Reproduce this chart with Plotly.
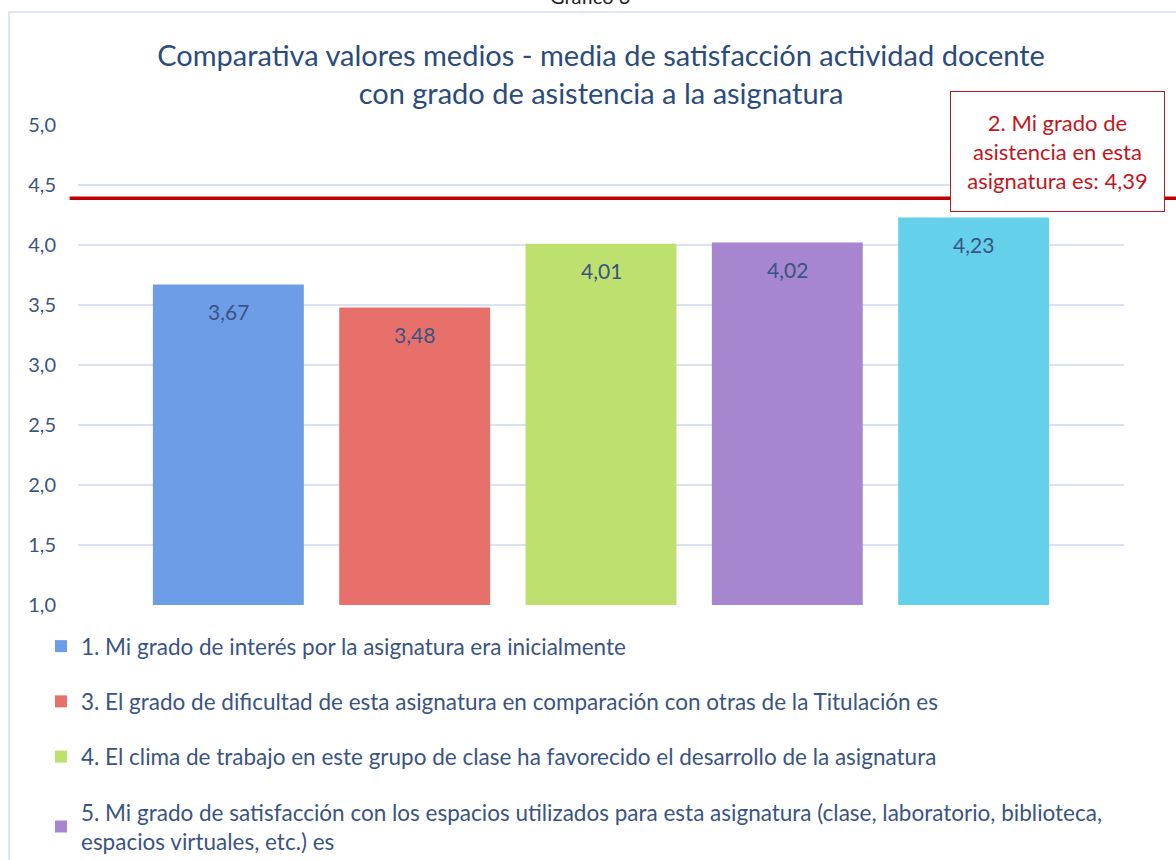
import plotly.graph_objects as go

# ---- data ----
series_names = [
    "1. Mi grado de interés por la asignatura era inicialmente",
    "3. El grado de dificultad de esta asignatura en comparación con otras de la Titulación es",
    "4. El clima de trabajo en este grupo de clase ha favorecido el desarrollo de la asignatura",
    "5. Mi grado de satisfacción con los espacios utilizados para esta asignatura (clase, laboratorio, biblioteca,<br>espacios virtuales, etc.) es",
    "6.",
]
series_values = [3.67, 3.48, 4.01, 4.02, 4.23]
series_colors = ["#6C9DE6", "#E8706B", "#BEE06E", "#A686CF", "#64D0EA"]
legend_visible = [True, True, True, True, False]
asistencia_label = "2. Mi grado de<br>asistencia en esta<br>asignatura es: 4,39"
asistencia_value = 4.39
y_ticks = [1.0, 1.5, 2.0, 2.5, 3.0, 3.5, 4.0, 4.5, 5.0]
title_text = ("Comparativa valores medios - media de satisfacción actividad docente"
              "<br>con grado de asistencia a la asignatura")
caption_text = "Gráfico 3"

FONT = "Lato"
TXT = "#3A5482"

fig = go.Figure()
for i, (name, val, col, show) in enumerate(zip(series_names, series_values, series_colors, legend_visible)):
    fig.add_trace(go.Bar(
        x=[i], y=[val], name=name, width=0.81,
        marker=dict(color=col, line=dict(width=0)),
        legendgroup=f"g{i}", showlegend=show,
        hoverinfo="skip",
    ))
    fig.add_annotation(
        x=i, y=val, xref="x", yref="y", yshift=-27,
        text=f"{val:.2f}".replace(".", ","), showarrow=False,
        font=dict(family=FONT, size=21, color=TXT),
    )

# reference line
fig.add_shape(type="line", xref="paper", yref="y",
              x0=-0.008, x1=1.1, y0=asistencia_value, y1=asistencia_value,
              line=dict(color="#C00000", width=3.5))

# reference label box
fig.add_annotation(
    xref="paper", yref="paper", x=0.9364, y=0.9448,
    xanchor="center", yanchor="middle",
    text=asistencia_label, showarrow=False,
    font=dict(family=FONT, size=22, color="#C0171E"),
    bgcolor="white", bordercolor="#C0171E", borderwidth=1,
    width=207, height=113, borderpad=3, align="center",
)

# caption above chart (cut off)
fig.add_annotation(
    xref="paper", yref="paper", x=(590 - 78) / 1046, y=(605 + 4) / 480,
    xanchor="center", yanchor="middle", text=caption_text, showarrow=False,
    font=dict(family=FONT, size=20, color="#222222"),
)

# outer frame
fig.add_shape(type="rect", xref="paper", yref="paper",
              x0=(9 - 78) / 1046, x1=1.2, y0=-1.0, y1=(605 - 12) / 480,
              line=dict(color="#D5DEEE", width=1.5), layer="below")

fig.update_layout(
    width=1176, height=860,
    margin=dict(l=78, r=52, t=125, b=255, autoexpand=False),
    paper_bgcolor="white", plot_bgcolor="white",
    separators=",.",
    barmode="overlay",
    title=dict(text=title_text, x=0.5, xref="paper", xanchor="center",
               y=1 - 66 / 860, yref="container", yanchor="middle",
               font=dict(family=FONT, size=29, color="#2B4B7C")),
    font=dict(family=FONT, color=TXT),
    xaxis=dict(range=[-0.807, 4.807], showticklabels=False, showgrid=False,
               zeroline=False, showline=False, ticks=""),
    yaxis=dict(range=[1, 5], tickvals=y_ticks, tickformat=".1f",
               showgrid=True, gridcolor="#D9E2F1", gridwidth=1.5,
               zeroline=False, showline=False, ticks="",
               ticklabelstandoff=21,
               tickfont=dict(family=FONT, size=20, color=TXT)),
    legend=dict(x=(41 - 78) / 1046, xanchor="left", y=(605 - 625) / 480, yanchor="top",
                font=dict(family=FONT, size=22.5, color=TXT),
                tracegroupgap=23, itemsizing="constant", bgcolor="rgba(0,0,0,0)"),
    showlegend=True,
)

fig.write_html("out.html", config={"displayModeBar": False},
               post_script="document.body.style.margin='0';")
